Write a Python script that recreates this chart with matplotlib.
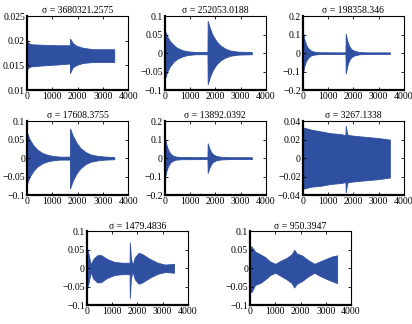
import matplotlib
matplotlib.use('Agg')
import matplotlib.pyplot as plt
from matplotlib.ticker import FuncFormatter

plt.rcParams['font.family'] = ['Liberation Serif', 'DejaVu Serif']
plt.rcParams['font.size'] = 7.5

# sigma values shown in titles
sigmas = ['3680321.2575', '252053.0188', '198358.346', '17608.3755',
          '13892.0392', '3267.1338', '1479.4836', '950.3947']

# y limits / ticks per panel
ylims = [(0.01, 0.025), (-0.1, 0.1), (-0.2, 0.2), (-0.1, 0.1),
         (-0.2, 0.2), (-0.04, 0.04), (-0.1, 0.1), (-0.1, 0.1)]
yticks = [[0.01, 0.015, 0.02, 0.025], [-0.1, -0.05, 0, 0.05, 0.1],
          [-0.2, -0.1, 0, 0.1, 0.2], [-0.1, -0.05, 0, 0.05, 0.1],
          [-0.2, -0.1, 0, 0.1, 0.2], [-0.04, -0.02, 0, 0.02, 0.04],
          [-0.1, -0.05, 0, 0.05, 0.1], [-0.1, -0.05, 0, 0.05, 0.1]]

# signal envelopes: (sample index, upper, lower)
env1_x = [0, 30, 150, 600, 1200, 1690, 1700, 1720, 1800, 1950, 2200, 2600, 3000, 3450]
env1_hi = [0.0200, 0.0196, 0.0193, 0.0192, 0.0191, 0.0191, 0.0204, 0.0203, 0.0196, 0.0190, 0.0186, 0.0183, 0.0183, 0.0183]
env1_lo = [0.0142, 0.0145, 0.0148, 0.0150, 0.0152, 0.0154, 0.0135, 0.0137, 0.0146, 0.0151, 0.0155, 0.0157, 0.0157, 0.0157]

env2_x = [0, 100, 200, 350, 500, 700, 900, 1200, 1690, 1700, 1800, 1900, 2050, 2200, 2400, 2600, 2900, 3450]
env2_hi = [0.062, 0.045, 0.033, 0.022, 0.014, 0.008, 0.005, 0.003, 0.003, 0.087, 0.065, 0.048, 0.032, 0.021, 0.012, 0.007, 0.004, 0.003]
env2_lo = [-0.070, -0.050, -0.036, -0.023, -0.015, -0.009, -0.005, -0.003, -0.003, -0.084, -0.062, -0.046, -0.030, -0.020, -0.012, -0.007, -0.004, -0.003]

env3_x = [0, 60, 130, 220, 320, 450, 650, 1690, 1700, 1760, 1830, 1920, 2050, 2250, 2600, 3450]
env3_hi = [0.120, 0.075, 0.045, 0.025, 0.014, 0.008, 0.005, 0.004, 0.105, 0.068, 0.040, 0.022, 0.012, 0.006, 0.004, 0.004]
env3_lo = [-0.110, -0.070, -0.042, -0.024, -0.013, -0.008, -0.005, -0.004, -0.110, -0.070, -0.040, -0.022, -0.012, -0.006, -0.004, -0.004]

env4_x = [0, 100, 250, 400, 600, 800, 1000, 1300, 1690, 1700, 1800, 1950, 2100, 2300, 2500, 2800, 3100, 3450]
env4_hi = [0.068, 0.050, 0.034, 0.023, 0.014, 0.009, 0.006, 0.004, 0.004, 0.080, 0.062, 0.042, 0.028, 0.017, 0.010, 0.006, 0.004, 0.003]
env4_lo = [-0.068, -0.050, -0.034, -0.023, -0.014, -0.009, -0.006, -0.004, -0.004, -0.082, -0.062, -0.042, -0.028, -0.017, -0.010, -0.006, -0.004, -0.003]

env5_x = [0, 60, 130, 220, 320, 450, 650, 1690, 1700, 1760, 1830, 1920, 2050, 2250, 2600, 3450]
env5_hi = [0.115, 0.075, 0.045, 0.025, 0.014, 0.008, 0.006, 0.005, 0.080, 0.055, 0.034, 0.020, 0.011, 0.007, 0.005, 0.005]
env5_lo = [-0.110, -0.072, -0.043, -0.024, -0.014, -0.008, -0.006, -0.005, -0.080, -0.055, -0.034, -0.020, -0.011, -0.007, -0.005, -0.005]

env6_x = [0, 50, 300, 700, 1100, 1500, 1690, 1700, 1730, 1760, 1800, 2100, 2500, 2900, 3200, 3450]
env6_hi = [0.028, 0.033, 0.031, 0.029, 0.027, 0.026, 0.025, 0.035, 0.030, 0.026, 0.025, 0.024, 0.023, 0.022, 0.021, 0.020]
env6_lo = [-0.030, -0.033, -0.031, -0.030, -0.028, -0.027, -0.026, -0.037, -0.032, -0.027, -0.026, -0.025, -0.024, -0.023, -0.022, -0.021]

env7_x = [0, 60, 150, 250, 400, 550, 800, 1100, 1400, 1690, 1700, 1740, 1800, 1900, 2050, 2200, 2500, 2800, 3100, 3450]
env7_hi = [0.055, 0.040, 0.010, 0.025, 0.035, 0.036, 0.025, 0.017, 0.015, 0.015, 0.070, 0.030, 0.008, 0.030, 0.042, 0.038, 0.025, 0.015, 0.010, 0.012]
env7_lo = [-0.055, -0.040, -0.010, -0.028, -0.038, -0.038, -0.026, -0.018, -0.016, -0.016, -0.080, -0.030, -0.008, -0.030, -0.042, -0.038, -0.025, -0.015, -0.010, -0.012]

env8_x = [0, 50, 200, 400, 600, 800, 1000, 1200, 1450, 1650, 1750, 1850, 2050, 2300, 2550, 2750, 3000, 3250, 3450]
env8_hi = [0.055, 0.060, 0.045, 0.038, 0.030, 0.018, 0.012, 0.020, 0.028, 0.038, 0.050, 0.040, 0.035, 0.022, 0.012, 0.018, 0.025, 0.032, 0.035]
env8_lo = [-0.060, -0.065, -0.045, -0.040, -0.030, -0.018, -0.012, -0.020, -0.030, -0.040, -0.052, -0.042, -0.035, -0.022, -0.012, -0.020, -0.028, -0.035, -0.040]

envelopes = [(env1_x, env1_hi, env1_lo), (env2_x, env2_hi, env2_lo),
             (env3_x, env3_hi, env3_lo), (env4_x, env4_hi, env4_lo),
             (env5_x, env5_hi, env5_lo), (env6_x, env6_hi, env6_lo),
             (env7_x, env7_hi, env7_lo), (env8_x, env8_hi, env8_lo)]

# axes rectangles in figure fractions
W, H = 0.245, 0.228
positions = [(0.066, 0.722), (0.400, 0.722), (0.735, 0.722),
             (0.066, 0.398), (0.400, 0.398), (0.735, 0.398),
             (0.211, 0.058), (0.607, 0.058)]

color = '#2f4fa0'


def fmt(v, pos):
    if abs(v) < 1e-12:
        return '0'
    return ('%g' % v).replace('-', '\u2212')


fig = plt.figure(figsize=(4.12, 3.24), dpi=100)
for i in range(8):
    ax = fig.add_axes([positions[i][0], positions[i][1], W, H])
    x, hi, lo = envelopes[i]
    ax.fill_between(x, lo, hi, color=color, linewidth=0.6, edgecolor=color)
    ax.set_xlim(0, 4000)
    ax.set_ylim(*ylims[i])
    ax.set_xticks([0, 1000, 2000, 3000, 4000])
    ax.set_yticks(yticks[i])
    ax.yaxis.set_major_formatter(FuncFormatter(fmt))
    ax.tick_params(direction='in', length=2, width=0.6, top=True, right=True,
                   labelsize=7, pad=1.5)
    for side in ['top', 'right']:
        ax.spines[side].set_linewidth(0.8)
    for side in ['left', 'bottom']:
        ax.spines[side].set_linewidth(1.6)
    ax.set_title('\u03c3 = ' + sigmas[i], fontsize=7, pad=2)

fig.savefig('out.png', dpi=100)
